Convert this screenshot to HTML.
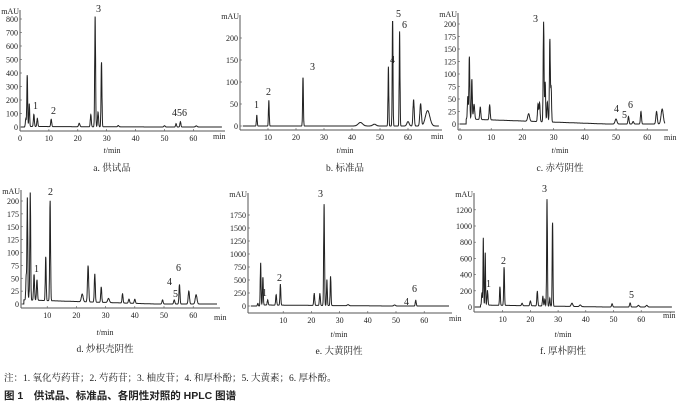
<!DOCTYPE html>
<html><head><meta charset="utf-8">
<style>
body{margin:0;background:#fff;width:678px;height:407px;overflow:hidden}
svg{display:block}
text{font-family:"Liberation Serif","Noto Serif CJK SC",serif;fill:#222}
.t{font-size:8px}
.l{font-size:10px}
.c{font-size:9.5px}
</style></head><body>
<svg id="s" width="678" height="407" xmlns="http://www.w3.org/2000/svg">
<text x="4" y="381" style="font-size:9.5px">注：1. 氧化芍药苷；2. 芍药苷；3. 柚皮苷；4. 和厚朴酚；5. 大黄素；6. 厚朴酚。</text>
<text x="4" y="399" style="font-size:10.5px;font-weight:bold;font-family:'Liberation Sans','Noto Sans CJK SC',sans-serif">图 1　供试品、标准品、各阴性对照的 HPLC 图谱</text>
</svg>
<script>
const S=document.getElementById('s');const NS='http://www.w3.org/2000/svg';
function el(n,a,t){const e=document.createElementNS(NS,n);for(const k in a)e.setAttribute(k,a[k]);if(t!==undefined)e.textContent=t;S.appendChild(e);return e;}
const P=[
{ax:20,y0:127,top:10,bot:131,xe:225,t0:20,pm:2.89,k:0.135,ticks:[0,100,200,300,400,500,600,700,800],xt:[0,10,20,30,40,50,60],tstart:0,base:4,
 pk:[[2,60,.15],[2.5,380,.14],[3.2,170,.14],[4.8,90,.17],[6,60,.17],[10.8,55,.17],[20.5,25,.22],[24.5,90,.17],[26,820,.15],[27,110,.17],[28.2,480,.15],[34,10,.22],[50,10,.22],[54,25,.17],[55.5,40,.17],[61,8,.3]],
 lab:[["1",33,109],["2",51,114],["3",96,12],["456",172,116]],min:[213,139],tm:[112,153],cap:[112,171,"a. 供试品"]},
{ax:240,y0:126,top:15,bot:130,xe:442,t0:240,pm:2.8,k:0.44,ticks:[0,50,100,150,200],xt:[10,20,30,40,50,60],tstart:1,base:0,
 pk:[[6,25,.14],[10.3,58,.14],[22.5,110,.14],[43,8,.8],[48,4,.6],[53,135,.14],[54.5,240,.14],[57,215,.14],[60,10,.4],[62,60,.22],[64.5,50,.27],[67,35,.8]],
 lab:[["1",254,108],["2",266,95],["3",310,70],["4",390,63],["5",396,17],["6",402,28]],min:[431,139],tm:[345,153],cap:[345,171,"b. 标准品"]},
{ax:458,y0:124,top:13,bot:130,xe:668,t0:460,pm:3.12,k:0.5,ticks:[0,25,50,75,100,125,150,175,200],xt:[0,10,20,30,40,50,60],tstart:0,base:10,
 pk:[[2.5,45,.14],[3,125,.14],[3.8,80,.14],[4.5,30,.2],[6.5,25,.17],[9.5,30,.17],[22,15,.3],[25,35,.17],[25.5,38,.17],[26.8,200,.14],[27.3,80,.14],[28,40,.17],[28.8,165,.14],[29.2,70,.14],[50,10,.3],[54,15,.17],[55.5,5,.2],[58,25,.17],[63,25,.22],[64.8,30,.35]],
 lab:[["3",533,22],["4",614,112],["5",622,118],["6",628,108]],min:[664,140],tm:[560,153],cap:[560,171,"c. 赤芍阴性"]},
{ax:21,y0:304,top:190,bot:308,xe:220,t0:18,pm:2.92,k:0.515,ticks:[0,25,50,75,100,125,150,175,200],xt:[10,20,30,40,50,60],tstart:1.5,base:8,
 pk:[[2.8,45,.14],[3.2,200,.14],[3.8,12,.1],[4.2,210,.14],[5.5,50,.17],[6.5,40,.17],[9.5,85,.15],[11,195,.15],[22,15,.3],[24,70,.2],[26.3,55,.17],[28.5,30,.17],[31,8,.3],[35.8,18,.17],[38,8,.2],[40,8,.2],[49.5,8,.2],[53.5,8,.2],[55.3,38,.17],[58.5,25,.22],[61,18,.3]],
 lab:[["1",34,272],["2",48,195],["4",167,285],["5",173,297],["6",176,271]],min:[214,320],tm:[105,335],cap:[105,352,"d. 炒枳壳阴性"]},
{ax:248,y0:306,top:193,bot:313,xe:452,t0:255,pm:2.82,k:0.052,ticks:[0,250,500,750,1000,1250,1500,1750],xt:[10,20,30,40,50,60],tstart:-1.5,base:20,
 pk:[[1,50,.15],[2,820,.14],[2.8,530,.14],[4.5,100,.17],[7.5,200,.17],[9,400,.15],[21,230,.17],[23,230,.17],[24.5,1950,.15],[25.5,500,.14],[26.8,560,.15],[33,20,.3],[49.5,20,.3],[57,110,.17]],
 lab:[["1",262,296],["2",277,281],["3",318,197],["4",404,305],["6",412,292]],min:[449,321],tm:[339,337],cap:[339,354,"e. 大黄阴性"]},
{ax:474,y0:307,top:193,bot:312,xe:675,t0:475,pm:2.77,k:0.081,ticks:[0,200,400,600,800,1000,1200],xt:[10,20,30,40,50,60],tstart:-0.5,base:25,
 pk:[[2.5,150,.14],[3,830,.12],[3.7,650,.12],[4.5,180,.17],[9,230,.15],[10.5,470,.15],[17,30,.2],[20,60,.2],[22.5,180,.17],[24.5,120,.17],[25.2,80,.14],[26,1320,.14],[27,100,.14],[28,1030,.14],[35,40,.3],[38,20,.3],[49.5,40,.2],[56,50,.2],[59,20,.3],[62,20,.3]],
 lab:[["1",486,287],["2",501,264],["3",542,192],["5",629,298]],min:[663,318],tm:[563,337],cap:[563,354,"f. 厚朴阴性"]}
];
for(const p of P){
 el('line',{x1:p.ax,y1:p.top,x2:p.ax,y2:p.bot,stroke:'#555','stroke-width':1});
 el('line',{x1:p.ax,y1:p.bot,x2:p.xe,y2:p.bot,stroke:'#555','stroke-width':1});
 el('text',{x:p.ax-1,y:p.top+4,'text-anchor':'end',class:'t'},'mAU');
 for(const v of p.ticks){const y=p.y0-v*p.k;el('text',{x:p.ax-2,y:y+3,'text-anchor':'end',class:'t'},v);el('line',{x1:p.ax,y1:y,x2:p.ax+2,y2:y,stroke:'#555','stroke-width':.6});}
 for(const t of p.xt){const x=p.t0+t*p.pm;el('text',{x:x,y:p.bot+10,'text-anchor':'middle',class:'t'},t);el('line',{x1:x,y1:p.bot,x2:x,y2:p.bot-2,stroke:'#555','stroke-width':.6});}
 el('text',{x:p.min[0],y:p.min[1],class:'t'},'min');
 el('text',{x:p.tm[0],y:p.tm[1],'text-anchor':'middle',class:'t'},'').innerHTML='<tspan font-style="italic">t</tspan>/min';
 el('text',{x:p.cap[0],y:p.cap[1],'text-anchor':'middle',class:'c'},p.cap[2]);
 for(const l of p.lab)el('text',{x:l[1],y:l[2],class:'l'},l[0]);
 const tend=(p.xe-3-p.t0)/p.pm;let d='';
 for(let t=Math.max(p.tstart,(p.ax+1-p.t0)/p.pm);t<=tend;t+=0.04){
  let v=0;if(t>2)v+=p.base*Math.max(0,1-(t-2)/45);
  for(const q of p.pk){const z=(t-q[0])/q[2];v+=q[1]*Math.exp(-z*z/2);}
  const x=p.t0+t*p.pm,y=Math.max(p.top,p.y0-v*p.k);
  d+=(d?'L':'M')+x.toFixed(1)+' '+y.toFixed(1);
 }
 el('path',{d:d,fill:'none',stroke:'#222','stroke-width':1});
}
</script>
</body></html>
